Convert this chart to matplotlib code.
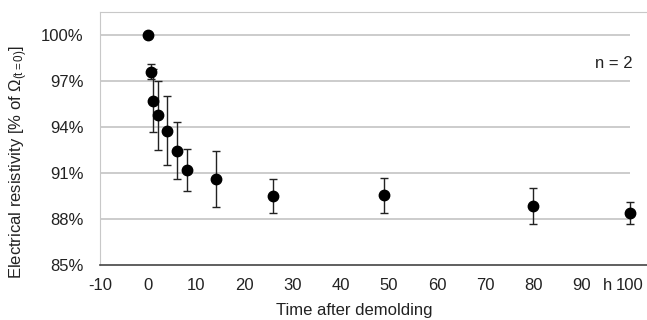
import matplotlib
matplotlib.use("Agg")
import matplotlib.pyplot as plt

plt.rcParams['font.family'] = ['Liberation Sans', 'DejaVu Sans']
plt.rcParams['mathtext.fontset'] = 'custom'
plt.rcParams['mathtext.rm'] = 'Liberation Sans'
plt.rcParams['mathtext.it'] = 'Liberation Sans'

time_h = [0, 0.5, 1, 2, 4, 6, 8, 14, 26, 49, 80, 100]
resistivity = [100.0, 97.6, 95.7, 94.75, 93.75, 92.45, 91.2, 90.6, 89.5, 89.55, 88.85, 88.4]
err = [0.0, 0.5, 2.05, 2.25, 2.25, 1.85, 1.35, 1.85, 1.1, 1.15, 1.2, 0.7]
xticks = [-10, 0, 10, 20, 30, 40, 50, 60, 70, 80, 90, 100]
yticks = [85, 88, 91, 94, 97, 100]
ytick_labels = ['85%', '88%', '91%', '94%', '97%', '100%']

FS = 12
TC = '#222222'

fig = plt.figure(figsize=(6.47, 3.2), dpi=100)
ax = fig.add_axes([100/647, 1-265/320, 547/647, 253/320])

xmin, xmax = -10, 103.6
ax.set_xlim(xmin, xmax)
ax.set_ylim(85, 101.5)

for y in yticks[1:]:
    ax.hlines(y, xmin, 100, color='#c8c8c8', lw=1.3, zorder=1)

ax.errorbar(time_h, resistivity, yerr=err, fmt='o', color='black', ms=7.5,
            ecolor=TC, elinewidth=1.0, capsize=3, capthick=1.0, zorder=3)

ax.set_xticks(xticks)
ax.set_xticklabels([str(t) for t in xticks])
ax.set_yticks(yticks)
ax.set_yticklabels(ytick_labels)
ax.tick_params(axis='both', length=0, labelsize=FS, colors=TC)
ax.tick_params(axis='y', pad=12)
ax.tick_params(axis='x', pad=9)

ax.spines['right'].set_visible(False)
ax.spines['top'].set_color('#c8c8c8')
ax.spines['left'].set_color('#c8c8c8')
ax.spines['bottom'].set_color('#444444')
ax.spines['bottom'].set_linewidth(1.2)

ax.set_xlabel('Time after demolding', fontsize=FS, color=TC)
ax.xaxis.label.set_va('center')
ax.xaxis.set_label_coords((354-100)/547, -(310-265)/253)
ax.set_ylabel(r'Electrical resistivity [% of $\Omega_{(t=0)}$]', fontsize=FS, color=TC)
ax.yaxis.label.set_va('center')
ax.yaxis.set_label_coords(-(100-19)/547, (265-162)/253)

fig.text(608/647, 1-286/320, 'h', fontsize=FS, color=TC, ha='center', va='center')
fig.text(633/647, 1-63/320, 'n = 2', fontsize=FS, color=TC, ha='right', va='center')

fig.savefig('out.png', dpi=100)
